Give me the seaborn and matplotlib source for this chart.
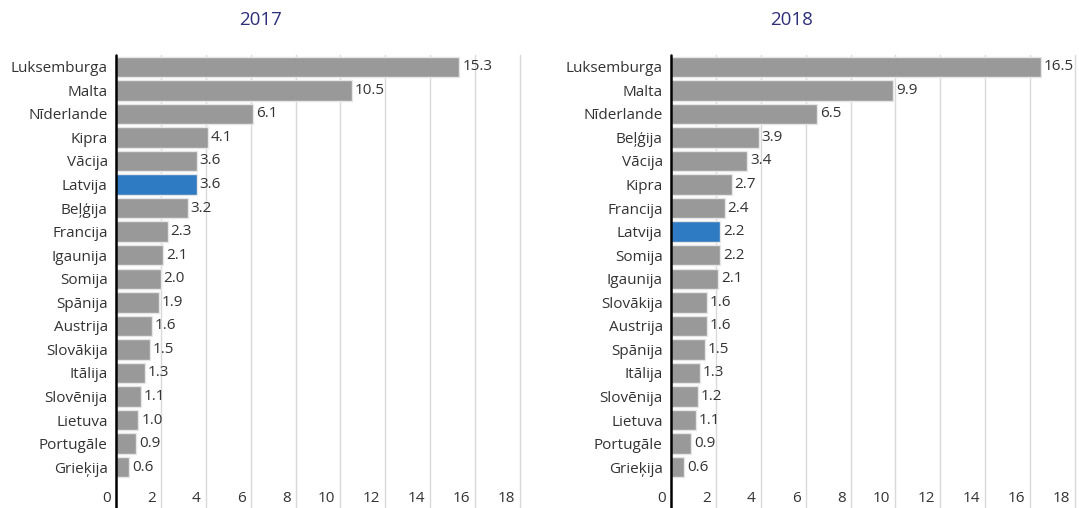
import matplotlib
matplotlib.use("Agg")
import matplotlib.pyplot as plt
import matplotlib.transforms as mtransforms
import seaborn as sns
import pandas as pd

countries_2017 = ["Luksemburga", "Malta", "Nīderlande", "Kipra", "Vācija", "Latvija",
                  "Beļģija", "Francija", "Igaunija", "Somija", "Spānija", "Austrija",
                  "Slovākija", "Itālija", "Slovēnija", "Lietuva", "Portugāle", "Grieķija"]
values_2017 = [15.3, 10.5, 6.1, 4.1, 3.6, 3.6, 3.2, 2.3, 2.1, 2.0, 1.9, 1.6, 1.5, 1.3,
               1.1, 1.0, 0.9, 0.6]

countries_2018 = ["Luksemburga", "Malta", "Nīderlande", "Beļģija", "Vācija", "Kipra",
                  "Francija", "Latvija", "Somija", "Igaunija", "Slovākija", "Austrija",
                  "Spānija", "Itālija", "Slovēnija", "Lietuva", "Portugāle", "Grieķija"]
values_2018 = [16.5, 9.9, 6.5, 3.9, 3.4, 2.7, 2.4, 2.2, 2.2, 2.1, 1.6, 1.6, 1.5, 1.3,
               1.2, 1.1, 0.9, 0.6]

years = ["2017", "2018"]
x_ticks = [0, 2, 4, 6, 8, 10, 12, 14, 16, 18]
highlight = "Latvija"

GRAY = "#999999"
BLUE = "#2f7bc3"
TEXT = "#333333"
TITLE = "#2e2f7a"
FS = 11

sns.set_theme(style="white")
plt.rcParams["font.family"] = ["Open Sans", "DejaVu Sans"]

fig = plt.figure(figsize=(10.79, 5.08), dpi=100)
W, H = 1079, 508
top_px, bot_px = 55, 479
ax_w = 404
lefts = [116, 671]
title_x = [261, 792]

datasets = [(countries_2017, values_2017), (countries_2018, values_2018)]

for i, (cats, vals) in enumerate(datasets):
    ax = fig.add_axes([lefts[i] / W, 1 - bot_px / H, ax_w / W, (bot_px - top_px) / H])
    df = pd.DataFrame({"country": cats, "value": vals})
    sns.barplot(data=df, y="country", x="value", color=GRAY, saturation=1,
                order=cats, orient="h", width=0.87, edgecolor="#e6e6e6",
                linewidth=1.0, ax=ax, zorder=2)
    container = ax.containers[0]
    for patch, c in zip(container.patches, cats):
        patch.set_facecolor(BLUE if c == highlight else GRAY)
    ax.set_xlim(0, 18)
    ax.set_ylim(len(cats) - 0.5, -0.5)
    ax.set_xlabel("")
    ax.set_ylabel("")
    for s in ["top", "right", "bottom", "left"]:
        ax.spines[s].set_visible(False)
    for t in x_ticks[1:]:
        ax.axvline(t, ymin=-0.068, ymax=1, color="#d9d9d9", lw=1.0, clip_on=False, zorder=1)
    ax.axvline(0, ymin=-0.068, ymax=1, color="black", lw=1.8, clip_on=False, zorder=4)

    ax.set_xticks(x_ticks)
    ax.set_xticklabels([str(t) for t in x_ticks])
    ax.tick_params(axis="x", length=0, pad=9, labelsize=FS, labelcolor=TEXT)
    offset = mtransforms.ScaledTranslation(-5 / 100, 0, fig.dpi_scale_trans)
    for lab in ax.get_xticklabels():
        lab.set_horizontalalignment("right")
        lab.set_transform(lab.get_transform() + offset)

    ax.tick_params(axis="y", length=0, pad=6, labelsize=FS, labelcolor=TEXT)

    ax.bar_label(container, labels=[f"{v:.1f}" for v in vals], padding=2,
                 fontsize=FS, color=TEXT, zorder=5)

    fig.text(title_x[i] / W, 1 - 20 / H, years[i], ha="center", va="center",
             fontsize=13.5, color=TITLE)

fig.savefig("out.png", dpi=100)
